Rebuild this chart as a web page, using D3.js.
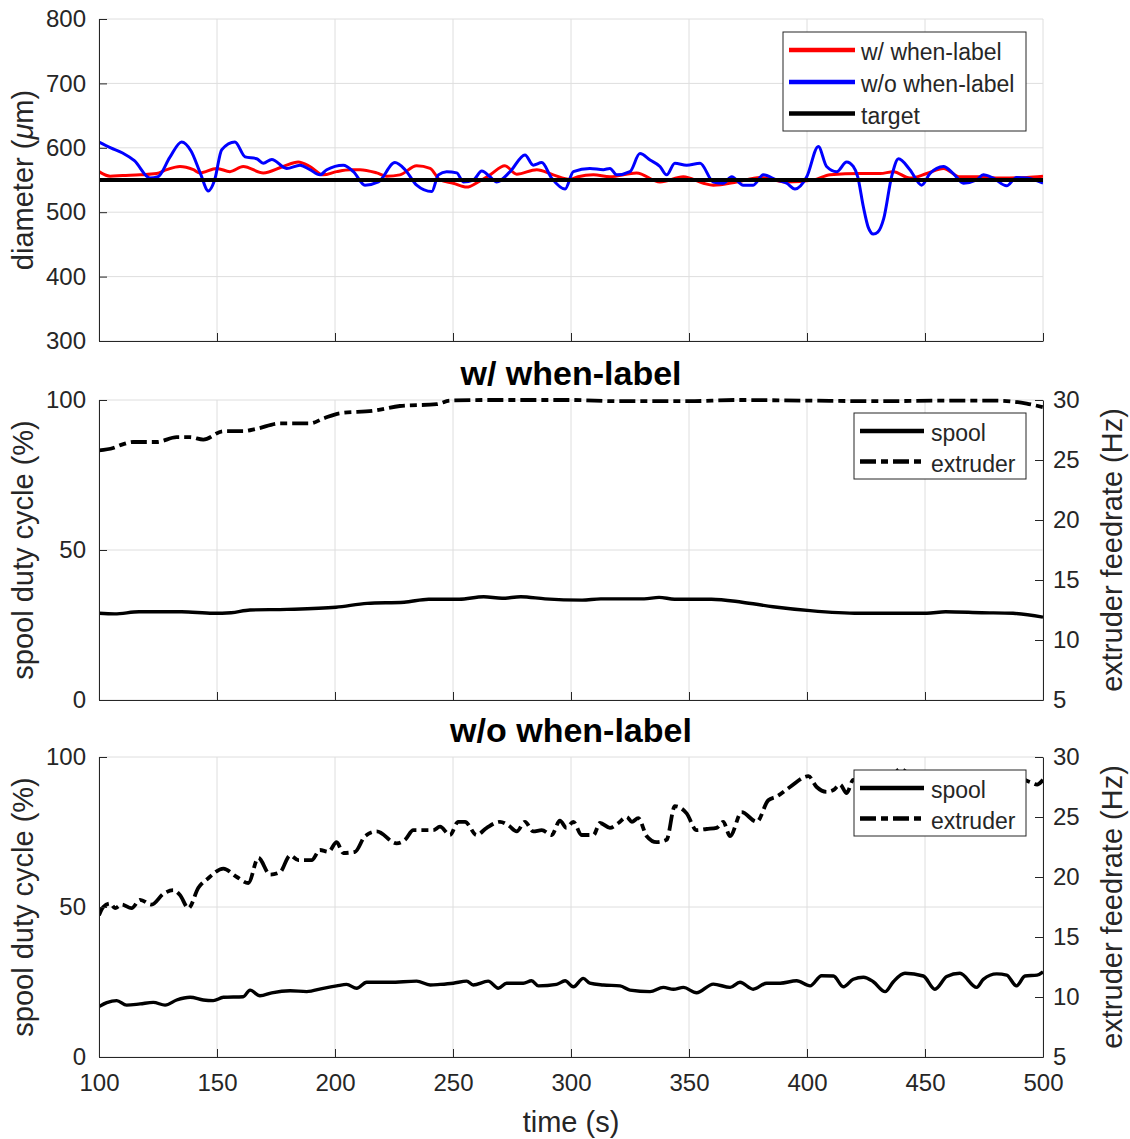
<!DOCTYPE html>
<html><head><meta charset="utf-8">
<script src="https://cdn.jsdelivr.net/npm/d3@7"></script>
<style>body{margin:0;background:#fff}svg{display:block}text{font-family:"Liberation Sans",Arial,Helvetica,sans-serif;fill:#262626}</style>
</head><body><svg id="c" width="1130" height="1139"></svg>
<script>
// ---------- DATA ----------
const xTicks = [100,150,200,250,300,350,400,450,500];
const diamTicks = [300,400,500,600,700,800];
const dutyTicks = [0,50,100];
const feedTicks = [5,10,15,20,25,30];
const targetDiameter = 550;

const redTime = [100,104.7,110,117.4,124.4,128.7,134.3,140,142.8,149.9,155.5,161.1,169.6,178.1,184.4,189.4,195,200.7,206.4,210.6,217.7,221.9,227.5,234.6,240.3,244.5,250.1,255.8,260.7,265.7,272,277,285.5,292.5,299.6,303,309.5,316.5,327.8,337.7,347.6,356.1,360.3,370.2,380.1,391.4,402.7,409.8,422.5,431,436.6,443.6,450.7,457.8,464.8,473.3,481.8,493.1,500];
const redDiam = [563,556,557,558,560,566,571,566,561,568,563,571,561,571,578,571,558,563,566,566,561,556,558,572,568,550,545,539,547,558,572,559,566,558,551,555,558,555,561,547,555,545,542,547,554,547,550,558,560,560,563,553,560,568,555,555,553,554,556];

const blueTime = [100,105,110,115,121.6,125,130,135,139,143,146.3,149,152,157.6,161.9,166.8,169.6,173.2,179.5,185.2,189.4,193.6,196.5,203.5,207.8,212.7,218.4,225.4,229.7,234.6,241,243.8,247.3,251.6,254.4,258.6,262.2,265.7,268.5,274.2,280.5,284,287.6,291.8,297.5,301,308,313.7,316.5,319.4,325,329.2,333.5,337.7,340.5,344,349,354.7,360.3,364.5,368.1,373,377.2,381.5,387.1,391.4,394.9,399.9,404.8,408.3,412.6,416.8,419.6,421.5,423.9,426,428.1,430,432.5,435.9,438.8,443.6,448.6,452.1,457.8,462,466.3,471.9,474.7,478.9,484.6,488.8,493.1,500];
const blueDiam = [609,600,592,580,553,555,585,609,595,560,533,550,597,609,586,583,576,582,568,573,566,558,566,573,563,542,547,577,566,542,532,558,563,561,547,550,564,555,547,563,589,573,577,553,536,563,568,566,568,558,563,591,581,571,558,576,573,576,547,545,555,542,542,558,550,545,536,555,602,571,563,578,571,555,508,476,466,469,490,556,583,566,542,560,571,560,545,550,558,553,541,554,553,545];

const wSpoolTime = [100,106.6,117,135,148.3,156,164,179.7,200.4,213.6,229.3,239.7,252.6,263,270.8,278.7,289,304.7,312.6,331,337.3,343.9,359.5,372.5,385.6,401.3,422,450.8,458.7,474,487.3,500];
const wSpool = [28.9,28.7,29.4,29.4,28.9,29.1,30,30.2,30.9,32.2,32.6,33.6,33.6,34.4,33.9,34.4,33.7,33.3,33.7,33.7,34.2,33.6,33.6,32.6,31.1,29.8,28.9,28.9,29.4,29.1,28.9,27.6];
const wExtTime = [100,106,110,114.5,124.4,132.9,138.6,144.2,152.7,161.1,166.8,176.7,189.4,195,202.1,216.2,227.5,243.1,248.7,265.7,300,320,350,370,400,430,460,480,493.1,500];
const wExt = [25.8,26.0,26.3,26.5,26.5,26.9,26.9,26.7,27.4,27.4,27.6,28.05,28.05,28.45,28.9,29.1,29.5,29.65,29.95,30.0,30.0,29.9,29.9,30.0,29.95,29.9,29.95,29.95,29.7,29.4];

const woSpoolTime = [100,103.3,107.5,111.7,117.4,123,128,132.9,138.6,144.2,148.4,152.7,161.1,164,168.2,173.2,181,188,195,200.7,204.9,209.2,213.4,223.3,234.6,240.3,244.5,250.1,255.8,258.6,264.9,269.2,272.7,279.8,283.3,286.2,293.9,297.5,301,305.2,308,313.7,320.8,325,333.5,339.1,343.4,347.6,353.2,360.3,367.4,371.6,377.2,382.9,388.6,395.6,401.3,406.2,411.2,415.4,419.6,423.9,428.1,433.1,436.6,441.5,449.3,454.2,459.2,464.8,471.9,474.7,480.4,484.6,488.8,492.4,497.5,500];
const woSpool = [16.8,18.1,18.8,17.3,17.7,18.2,17.3,19.0,19.9,19.0,18.8,19.9,20.1,22.3,20.4,21.4,22.1,21.8,22.9,23.7,24.2,22.9,24.9,24.9,25.3,24.0,24.2,24.6,25.3,24.0,25.3,22.9,24.6,24.6,25.4,23.7,24.2,25.4,23.4,26.2,24.6,24.0,23.7,22.3,21.8,23.2,22.6,23.2,21.4,24.3,23.2,24.9,22.6,24.6,24.6,25.4,23.7,27.1,27.0,23.4,25.9,26.6,25.1,21.8,25.1,27.9,27.0,22.6,26.8,27.9,23.2,25.9,27.7,27.3,23.7,27.0,27.3,28.4];
const woExtTime = [100,101.8,104.7,106.8,109.6,113.8,117.4,122.3,127.3,131.5,134.3,137.9,142.1,146.3,152.7,158.4,163.3,167.5,172.5,176.7,181,184.5,190.1,193.6,197.2,200.7,203.5,208.5,212.7,217.7,226.1,229.7,233.2,241.6,244.5,248.7,252.2,255.1,260,264.3,269.9,273.5,277,280.5,284,287.6,291.8,295.3,298.1,301,304.5,309.5,312.3,316.5,320.1,323.6,325.8,328.5,332.1,336.3,340.5,344,349,353.2,357.5,361.7,364.5,367.4,372.3,378.7,383.6,387.1,392.8,400.6,404.1,408.3,411.2,414,416.8,419.6,425,430,434,439.4,445,450,456,462,468,474,480,486,490,494.6,497.5,500];
const woExt = [16.8,17.5,17.8,17.4,17.7,17.4,18.1,17.7,18.6,18.9,18.5,17.4,19.1,19.9,20.7,20.0,19.5,21.6,20.2,20.4,21.8,21.4,21.4,22.25,22.1,22.9,22.0,22.1,23.4,23.8,22.8,23.1,23.9,23.9,24.2,23.5,24.6,24.6,23.5,24.1,24.6,24.3,23.8,24.6,23.8,23.9,23.5,24.7,24.1,24.6,23.5,23.5,24.5,24.1,24.5,25.0,24.6,24.9,23.4,22.9,23.1,25.9,25.3,23.9,24.0,24.1,24.6,23.4,25.4,24.6,26.4,26.7,27.5,28.4,27.5,27.1,27.25,27.7,27.0,28.1,27.6,28.2,27.8,29.0,28.3,27.9,28.4,28.1,28.6,28.0,28.3,27.8,28.2,27.9,27.7,28.1];

// ---------- DRAW ----------
const svg = d3.select('#c');
const X0 = 99, X1 = 1043;
const x = d3.scaleLinear().domain([100,500]).range([X0,X1]);
const AX = '#262626', GRID = '#dedede';
const TICK = 24, LBL = 29, TTL = 34, LEG = 23;
const DASH = '16,5,7,5';

function grid(g, yScale, yTicks, top, bot){
  g.selectAll(null).data(xTicks).join('line')
    .attr('x1',d=>x(d)).attr('x2',d=>x(d)).attr('y1',top).attr('y2',bot)
    .attr('stroke',GRID).attr('stroke-width',1);
  g.selectAll(null).data(yTicks).join('line')
    .attr('x1',X0).attr('x2',X1).attr('y1',d=>yScale(d)).attr('y2',d=>yScale(d))
    .attr('stroke',GRID).attr('stroke-width',1);
}
function styleAxis(g){
  g.selectAll('path.domain').attr('stroke',AX).attr('stroke-width',1);
  g.selectAll('.tick line').attr('stroke',AX);
  g.selectAll('.tick text').style('font-size',TICK+'px').style('fill',AX).attr('fill',AX);
}
function lineOf(xs, ys, yScale){
  return d3.line().curve(d3.curveMonotoneX).x((d,i)=>x(xs[i])).y((d,i)=>yScale(ys[i]))(ys);
}
function legend(g, bx, by, bw, bh, items, lx0, lx1, tx){
  g.append('rect').attr('x',bx).attr('y',by).attr('width',bw).attr('height',bh)
    .attr('fill','#fff').attr('stroke',AX).attr('stroke-width',1);
  items.forEach(it=>{
    g.append('line').attr('x1',lx0).attr('x2',lx1).attr('y1',it.y).attr('y2',it.y)
      .attr('stroke',it.color).attr('stroke-width',4.5).attr('stroke-dasharray',it.dash||null);
    g.append('text').attr('x',tx).attr('y',it.y+10).style('font-size',LEG+'px').text(it.label);
  });
}

// ----- Panel 1: diameter -----
(function(){
  const top=19, bot=341;
  const y = d3.scaleLinear().domain([300,800]).range([bot,top]);
  const g = svg.append('g');
  grid(g, y, diamTicks, top, bot);
  svg.append('clipPath').attr('id','cp1').append('rect').attr('x',X0).attr('y',top).attr('width',X1-X0).attr('height',bot-top);
  const lg = g.append('g').attr('clip-path','url(#cp1)');
  lg.append('path').attr('d',lineOf(redTime,redDiam,y)).attr('fill','none').attr('stroke','#ff0000').attr('stroke-width',3).attr('stroke-linejoin','round');
  lg.append('path').attr('d',lineOf(blueTime,blueDiam,y)).attr('fill','none').attr('stroke','#0000ff').attr('stroke-width',3).attr('stroke-linejoin','round');
  lg.append('line').attr('x1',x(100)).attr('x2',x(500)).attr('y1',y(targetDiameter)).attr('y2',y(targetDiameter)).attr('stroke','#000').attr('stroke-width',4);
  const la = g.append('g').attr('transform',`translate(${X0},0)`).call(d3.axisLeft(y).tickValues(diamTicks).tickSizeInner(-8).tickSizeOuter(0).tickPadding(13));
  styleAxis(la);
  const ba = g.append('g').attr('transform',`translate(0,${bot})`).call(d3.axisBottom(x).tickValues(xTicks).tickSizeInner(-8).tickSizeOuter(0).tickFormat(''));
  styleAxis(ba);
  const t = g.append('text').attr('transform',`translate(23,${(top+bot)/2}) rotate(-90)`).attr('text-anchor','middle').attr('dominant-baseline','central').style('font-size',LBL+'px');
  t.append('tspan').text('diameter (');
  t.append('tspan').style('font-style','italic').text('\u03bc');
  t.append('tspan').text('m)');
  legend(g, 783, 32, 243, 99, [
    {y:50,color:'#ff0000',label:'w/ when-label'},
    {y:82,color:'#0000ff',label:'w/o when-label'},
    {y:113.5,color:'#000',label:'target'}], 789, 855, 861);
})();

// ----- Panels 2 and 3 -----
function dutyPanel(top, bot, title, spT, sp, exT, ex, showX, cpid, legTop){
  const yl = d3.scaleLinear().domain([0,100]).range([bot,top]);
  const yr = d3.scaleLinear().domain([5,30]).range([bot,top]);
  const g = svg.append('g');
  grid(g, yl, dutyTicks, top, bot);
  svg.append('clipPath').attr('id',cpid).append('rect').attr('x',X0).attr('y',top-3).attr('width',X1-X0).attr('height',bot-top+3);
  const lg = g.append('g').attr('clip-path',`url(#${cpid})`);
  lg.append('path').attr('d',lineOf(spT,sp,yl)).attr('fill','none').attr('stroke','#000').attr('stroke-width',3.4).attr('stroke-linejoin','round');
  lg.append('path').attr('d',lineOf(exT,ex,yr)).attr('fill','none').attr('stroke','#000').attr('stroke-width',3.8).attr('stroke-dasharray',DASH).attr('stroke-linejoin','round');
  const la = g.append('g').attr('transform',`translate(${X0},0)`).call(d3.axisLeft(yl).tickValues(dutyTicks).tickSizeInner(-8).tickSizeOuter(0).tickPadding(13));
  styleAxis(la);
  const ra = g.append('g').attr('transform',`translate(${X1},0)`).call(d3.axisRight(yr).tickValues(feedTicks).tickSizeInner(-8).tickSizeOuter(0).tickPadding(10));
  styleAxis(ra);
  const bx = d3.axisBottom(x).tickValues(xTicks).tickSizeInner(-8).tickSizeOuter(0).tickPadding(17);
  if(!showX) bx.tickFormat('');
  const ba = g.append('g').attr('transform',`translate(0,${bot})`).call(bx);
  styleAxis(ba);
  g.append('text').attr('transform',`translate(23,${(top+bot)/2}) rotate(-90)`).attr('text-anchor','middle').attr('dominant-baseline','central').style('font-size',LBL+'px').text('spool duty cycle (%)');
  g.append('text').attr('transform',`translate(1112,${(top+bot)/2}) rotate(-90)`).attr('text-anchor','middle').attr('dominant-baseline','central').style('font-size',LBL+'px').text('extruder feedrate (Hz)');
  g.append('text').attr('x',(X0+X1)/2).attr('y',top-15).attr('text-anchor','middle').style('font-size',TTL+'px').style('font-weight','bold').style('fill','#000').text(title);
  legend(g, 854, legTop, 172, 66, [
    {y:legTop+18,color:'#000',label:'spool'},
    {y:legTop+48.5,color:'#000',label:'extruder',dash:DASH}], 860, 924, 931);
}
dutyPanel(400, 700, 'w/ when-label', wSpoolTime, wSpool, wExtTime, wExt, false, 'cp2', 413);
dutyPanel(757, 1057, 'w/o when-label', woSpoolTime, woSpool, woExtTime, woExt, true, 'cp3', 770);
svg.append('text').attr('x',(X0+X1)/2).attr('y',1132).attr('text-anchor','middle').style('font-size',LBL+'px').text('time (s)');
</script></body></html>
